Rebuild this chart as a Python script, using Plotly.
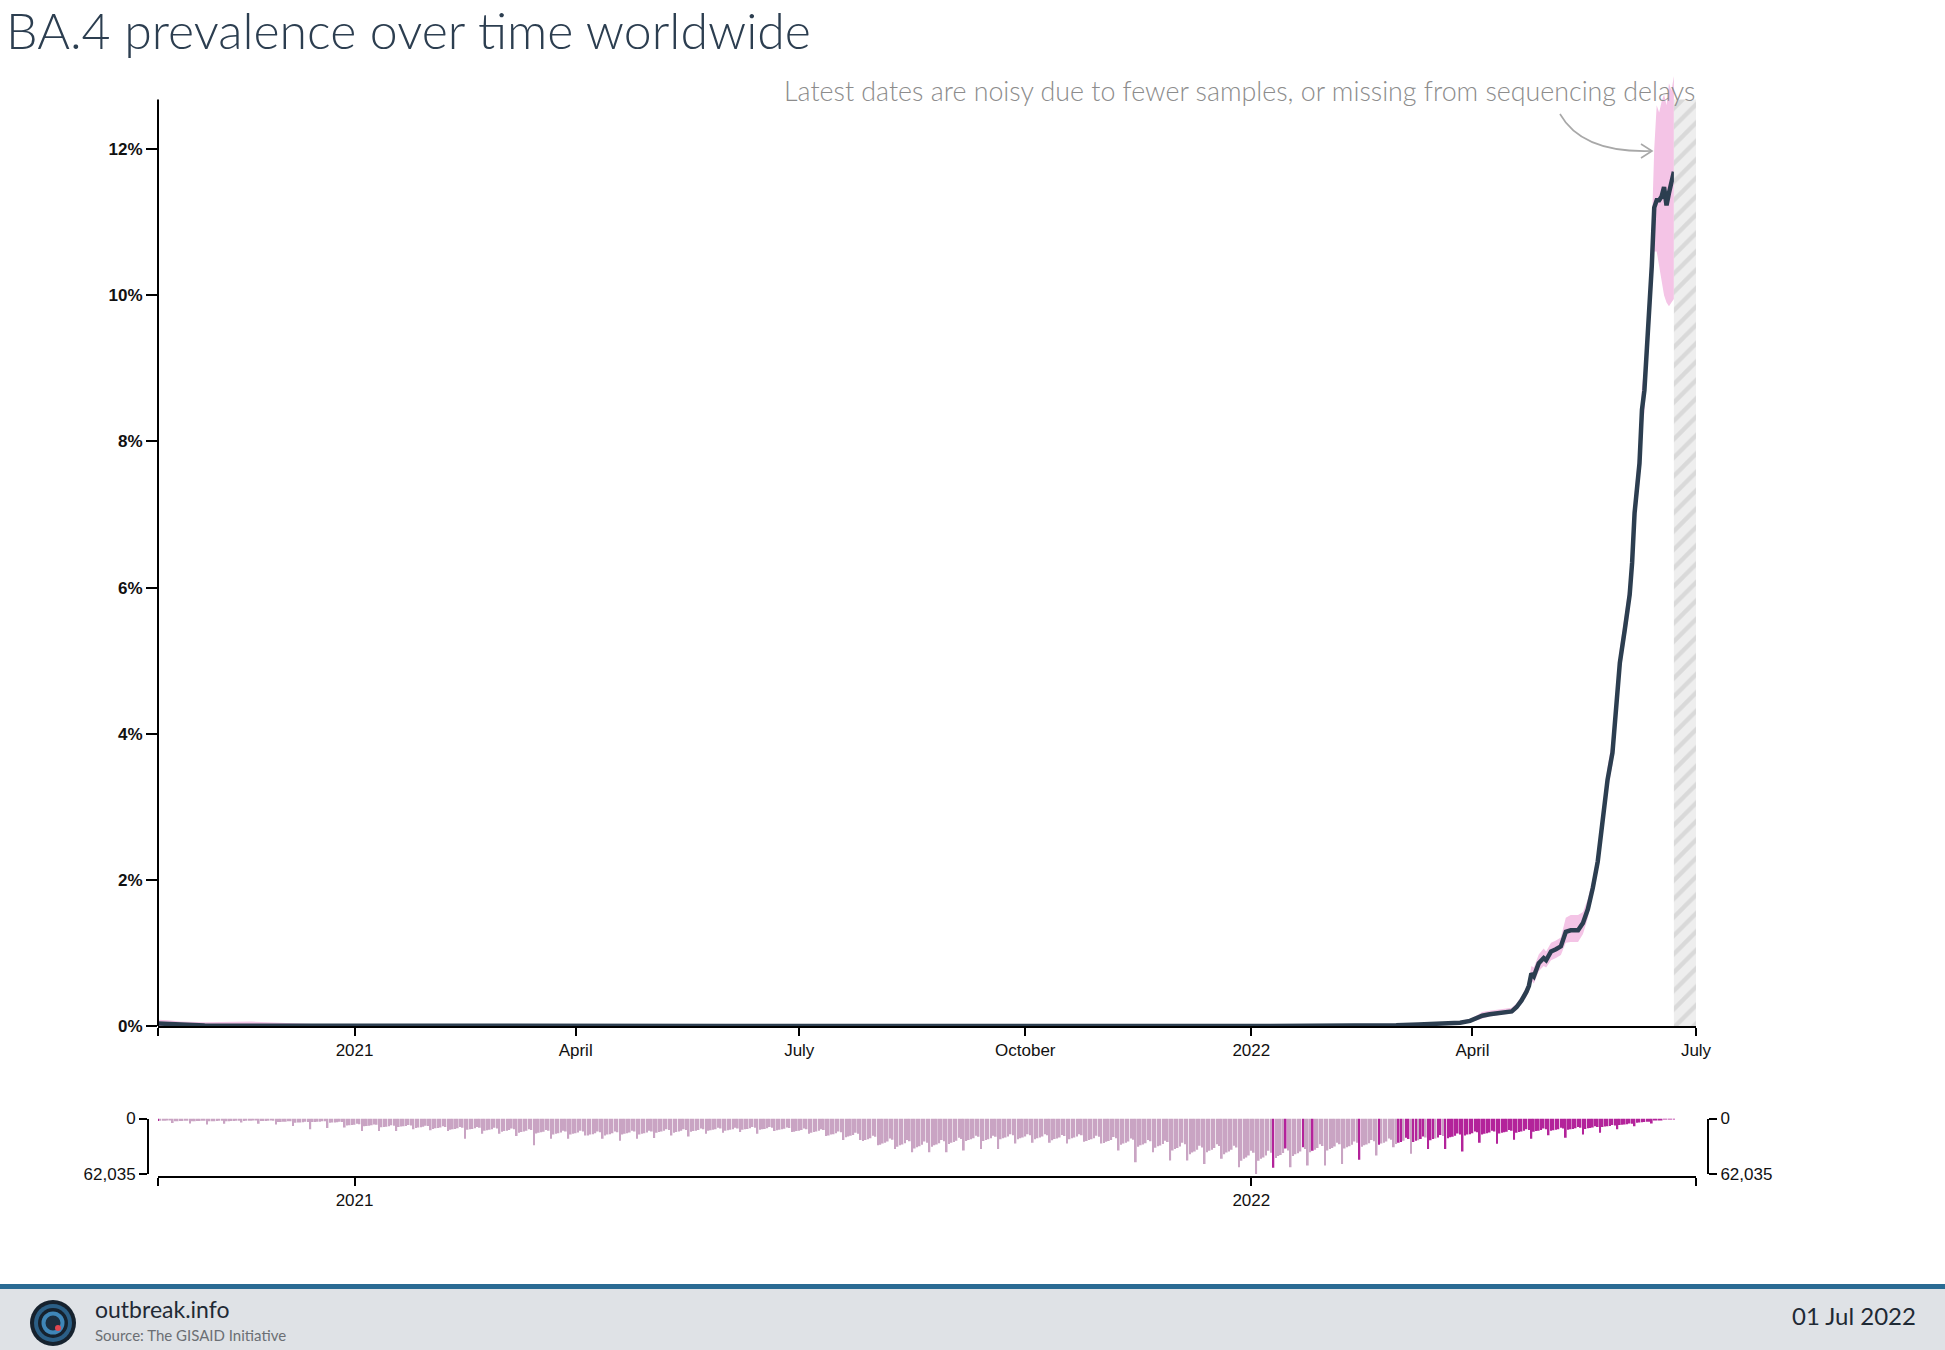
import plotly.graph_objects as go
import pandas as pd

W, H = 1945, 1350

# ---------------- data ----------------
line_dates = [
    "2020-10-13", "2020-10-17", "2020-10-22", "2020-11-01", "2020-11-20", "2020-12-05",
    "2020-12-20", "2021-01-15", "2021-03-01", "2021-06-01", "2022-01-01", "2022-02-01",
    "2022-03-01", "2022-03-10", "2022-03-18", "2022-03-23", "2022-03-27", "2022-03-31",
    "2022-04-03", "2022-04-05", "2022-04-08", "2022-04-12", "2022-04-14", "2022-04-17",
    "2022-04-19", "2022-04-21", "2022-04-23", "2022-04-24", "2022-04-25", "2022-04-26",
    "2022-04-28", "2022-04-30", "2022-05-01", "2022-05-03", "2022-05-05", "2022-05-07",
    "2022-05-09", "2022-05-11", "2022-05-14", "2022-05-16", "2022-05-18", "2022-05-20",
    "2022-05-22", "2022-05-23", "2022-05-26", "2022-05-28", "2022-05-31", "2022-06-02",
    "2022-06-04", "2022-06-05", "2022-06-06", "2022-06-08", "2022-06-09", "2022-06-10",
    "2022-06-11", "2022-06-12", "2022-06-13", "2022-06-14", "2022-06-15", "2022-06-16",
    "2022-06-17", "2022-06-18", "2022-06-19", "2022-06-20", "2022-06-21", "2022-06-22",
]
prevalence_pct = [
    0.035, 0.03, 0.012, 0.006, 0.005, 0.004,
    0.003, 0.002, 0.0, 0.0, 0.0, 0.002,
    0.01, 0.02, 0.025, 0.03, 0.045, 0.07,
    0.11, 0.14, 0.16, 0.18, 0.19, 0.20,
    0.26, 0.35, 0.47, 0.55, 0.72, 0.68,
    0.86, 0.93, 0.90, 1.02, 1.05, 1.09,
    1.29, 1.31, 1.31, 1.41, 1.60, 1.89,
    2.25, 2.55, 3.37, 3.74, 4.97, 5.42,
    5.90, 6.34, 7.02, 7.70, 8.43, 8.70,
    9.20, 9.80, 10.40, 11.20, 11.30, 11.30,
    11.35, 11.48, 11.23, 11.40, 11.55, 11.69,
]
ci_lower_pct = [
    0.0, 0.0, 0.0, 0.0, 0.0, 0.0,
    0.0, 0.0, 0.0, 0.0, 0.0, 0.0,
    0.005, 0.01, 0.015, 0.02, 0.03, 0.05,
    0.08, 0.11, 0.13, 0.15, 0.16, 0.17,
    0.22, 0.30, 0.40, 0.47, 0.62, 0.58,
    0.75, 0.82, 0.80, 0.90, 0.93, 0.97,
    1.14, 1.15, 1.15, 1.26, 1.48, 1.78,
    2.12, 2.42, 3.22, 3.58, 4.80, 5.24,
    5.70, 6.12, 6.78, 7.44, 8.15, 8.40,
    8.88, 9.45, 10.0, 10.6, 10.6, 10.4,
    10.2, 10.0, 9.9, 9.85, 9.9, 9.95,
]
ci_upper_pct = [
    0.085, 0.08, 0.06, 0.05, 0.06, 0.045,
    0.02, 0.012, 0.005, 0.003, 0.003, 0.006,
    0.02, 0.03, 0.04, 0.05, 0.07, 0.10,
    0.15, 0.19, 0.21, 0.23, 0.24, 0.25,
    0.31, 0.41, 0.54, 0.64, 0.82, 0.80,
    0.98, 1.06, 1.02, 1.14, 1.17, 1.21,
    1.48, 1.52, 1.52, 1.56, 1.74, 2.02,
    2.40, 2.70, 3.54, 3.92, 5.16, 5.62,
    6.12, 6.58, 7.28, 7.98, 8.74, 9.02,
    9.54, 10.2, 10.9, 12.0, 12.6, 12.5,
    12.65, 12.75, 12.6, 12.9, 12.8, 13.0,
]

# daily number of sequenced samples (thousands), one value per day from samples_start
samples_start = "2020-10-13"
daily_samples_k = [
    2.7, 2.6, 2.5, 2.4, 2.1, 2.2, 5.0,
    3.1, 3.0, 2.9, 2.8, 2.4, 2.6, 5.6,
    3.2, 3.0, 2.9, 2.8, 2.4, 2.5, 6.8,
    3.1, 3.0, 3.0, 2.8, 2.4, 2.6, 6.0,
    3.2, 3.0, 2.9, 2.7, 2.4, 2.5, 4.5,
    2.8, 2.6, 2.5, 2.4, 2.1, 2.2, 6.0,
    2.9, 2.8, 2.7, 2.6, 2.2, 2.4, 6.8,
    4.0, 3.8, 3.7, 3.5, 3.0, 3.2, 8.3,
    4.7, 4.5, 4.4, 4.1, 3.6, 3.8, 12.0,
    4.0, 3.8, 3.7, 3.5, 3.0, 3.2, 10.5,
    4.7, 4.5, 4.4, 4.1, 3.6, 3.8, 10.0,
    7.9, 7.5, 7.3, 6.9, 6.0, 6.4, 14.0,
    8.7, 8.3, 8.1, 7.6, 6.6, 7.1, 14.0,
    9.9, 9.4, 9.1, 8.6, 7.5, 8.0, 14.0,
    9.5, 9.0, 8.7, 8.3, 7.2, 7.7, 12.0,
    10.5, 10.0, 9.7, 9.2, 8.0, 8.5, 13.0,
    11.6, 11.0, 10.7, 10.1, 8.8, 9.4, 14.0,
    12.6, 12.0, 11.6, 11.0, 9.6, 10.2, 22.6,
    12.6, 12.0, 11.6, 11.0, 9.6, 10.2, 17.0,
    13.7, 13.0, 12.6, 12.0, 10.4, 11.1, 17.0,
    14.7, 14.0, 13.6, 12.9, 11.2, 11.9, 19.5,
    15.8, 15.0, 14.6, 13.8, 12.0, 12.8, 30.0,
    16.8, 16.0, 15.5, 14.7, 12.8, 13.6, 22.6,
    17.9, 17.0, 16.5, 15.6, 13.6, 14.5, 22.6,
    17.9, 17.0, 16.5, 15.6, 13.6, 14.5, 19.0,
    18.9, 18.0, 17.5, 16.6, 14.4, 15.3, 22.6,
    18.9, 18.0, 17.5, 16.6, 14.4, 15.3, 25.0,
    17.9, 17.0, 16.5, 15.6, 13.6, 14.5, 22.6,
    17.9, 17.0, 16.5, 15.6, 13.6, 14.5, 21.8,
    15.8, 15.0, 14.6, 13.8, 12.0, 12.8, 19.0,
    15.8, 15.0, 14.6, 13.8, 12.0, 12.8, 20.0,
    14.7, 14.0, 13.6, 12.9, 11.2, 11.9, 17.0,
    13.7, 13.0, 12.6, 12.0, 10.4, 11.1, 16.0,
    13.7, 13.0, 12.6, 12.0, 10.4, 11.1, 15.0,
    12.6, 12.0, 11.6, 11.0, 9.6, 10.2, 17.0,
    12.6, 12.0, 11.6, 11.0, 9.6, 10.2, 14.0,
    13.1, 12.5, 12.1, 11.5, 10.0, 10.6, 15.0,
    14.7, 14.0, 13.6, 12.9, 11.2, 11.9, 17.0,
    15.8, 15.0, 14.6, 13.8, 12.0, 12.8, 19.5,
    18.9, 18.0, 17.5, 16.6, 14.4, 15.3, 24.0,
    21.0, 20.0, 19.4, 18.4, 16.0, 17.0, 24.0,
    25.2, 24.0, 23.3, 22.1, 19.2, 20.4, 30.0,
    29.4, 28.0, 27.2, 25.8, 22.4, 23.8, 34.0,
    31.5, 30.0, 29.1, 27.6, 24.0, 25.5, 37.6,
    33.6, 32.0, 31.0, 29.4, 25.6, 27.2, 37.6,
    31.5, 30.0, 29.1, 27.6, 24.0, 25.5, 37.6,
    28.4, 27.0, 26.2, 24.8, 21.6, 23.0, 35.7,
    25.2, 24.0, 23.3, 22.1, 19.2, 20.4, 34.0,
    25.2, 24.0, 23.3, 22.1, 19.2, 20.4, 34.0,
    23.1, 22.0, 21.3, 20.2, 17.6, 18.7, 28.0,
    23.1, 22.0, 21.3, 20.2, 17.6, 18.7, 27.0,
    23.1, 22.0, 21.3, 20.2, 17.6, 18.7, 27.0,
    24.2, 23.0, 22.3, 21.2, 18.4, 19.6, 28.0,
    23.1, 22.0, 21.3, 20.2, 17.6, 18.7, 26.0,
    25.2, 24.0, 23.3, 22.1, 19.2, 20.4, 28.0,
    27.3, 26.0, 25.2, 23.9, 20.8, 22.1, 35.7,
    29.4, 28.0, 27.2, 25.8, 22.4, 23.8, 49.0,
    31.5, 30.0, 29.1, 27.6, 24.0, 25.5, 37.6,
    32.6, 31.0, 30.1, 28.5, 24.8, 26.4, 47.0,
    35.7, 34.0, 33.0, 31.3, 27.2, 28.9, 47.0,
    39.9, 38.0, 36.9, 35.0, 30.4, 32.3, 50.8,
    37.8, 36.0, 34.9, 33.1, 28.8, 30.6, 45.0,
    39.9, 38.0, 36.9, 35.0, 30.4, 32.3, 54.5,
    47.3, 45.0, 43.7, 41.4, 36.0, 38.3, 62.035,
    47.3, 45.0, 43.7, 41.4, 36.0, 38.3, 55.0,
    44.1, 42.0, 40.7, 38.6, 33.6, 35.7, 54.5,
    42.0, 40.0, 38.8, 36.8, 32.0, 34.0, 52.6,
    37.8, 36.0, 34.9, 33.1, 28.8, 30.6, 52.6,
    35.7, 34.0, 33.0, 31.3, 27.2, 28.9, 50.8,
    33.6, 32.0, 31.0, 29.4, 25.6, 27.2, 46.0,
    31.5, 30.0, 29.1, 27.6, 24.0, 25.5, 41.4,
    29.4, 28.0, 27.2, 25.8, 22.4, 23.8, 32.0,
    28.4, 27.0, 26.2, 24.8, 21.6, 23.0, 39.5,
    26.3, 25.0, 24.3, 23.0, 20.0, 21.3, 34.0,
    24.2, 23.0, 22.3, 21.2, 18.4, 19.6, 34.0,
    22.1, 21.0, 20.4, 19.3, 16.8, 17.9, 37.0,
    18.9, 18.0, 17.5, 16.6, 14.4, 15.3, 27.0,
    17.9, 17.0, 16.5, 15.6, 13.6, 14.5, 28.2,
    16.8, 16.0, 15.5, 14.7, 12.8, 13.6, 23.7,
    15.8, 15.0, 14.6, 13.8, 12.0, 12.8, 22.6,
    14.7, 14.0, 13.6, 12.9, 11.2, 11.9, 18.8,
    13.7, 13.0, 12.6, 12.0, 10.4, 11.1, 21.4,
    12.6, 12.0, 11.6, 11.0, 9.6, 10.2, 18.0,
    11.6, 11.0, 10.7, 10.1, 8.8, 9.4, 15.8,
    9.5, 9.0, 8.7, 8.3, 7.2, 7.7, 12.0,
    7.4, 7.0, 6.8, 6.4, 5.6, 6.0, 8.6,
    4.7, 4.5, 4.3, 4.0, 3.5, 3.7, 5.5,
    2.2, 1.9, 1.6, 1.3, 1.0, 0.8, 0.6,
    0.3, 0.15,
]
# days on which BA.4 was found among the samples (dark bars)
ba4_sporadic_dates = ["2020-10-13", "2022-01-10", "2022-01-15", "2022-01-22",
                      "2022-01-26", "2022-02-14", "2022-02-22"]
ba4_continuous_from = "2022-03-02"
ba4_missed_dates = ["2022-03-04", "2022-03-07", "2022-03-10", "2022-03-13",
                    "2022-03-17", "2022-03-20"]

x_tick_vals = ["2021-01-01", "2021-04-01", "2021-07-01", "2021-10-01",
               "2022-01-01", "2022-04-01", "2022-07-01"]
x_tick_text = ["2021", "April", "July", "October", "2022", "April", "July"]
y_tick_vals = [0, 2, 4, 6, 8, 10, 12]
y_tick_text = ["0%", "2%", "4%", "6%", "8%", "10%", "12%"]
count_x_tick_vals = ["2021-01-01", "2022-01-01"]
count_x_tick_text = ["2021", "2022"]

x_start, x_end = "2020-10-13", "2022-07-01"
noisy_from = "2022-06-22"
y_axis_top = 12.68

title_text = "BA.4 prevalence over time worldwide"
note_text = "Latest dates are noisy due to fewer samples, or missing from sequencing delays"

# ---------------- derived ----------------
sample_dates = pd.date_range(samples_start, periods=len(daily_samples_k), freq="D")
sample_counts = [round(v * 1000) for v in daily_samples_k]
max_count = max(sample_counts)
sporadic = set(pd.to_datetime(ba4_sporadic_dates))
missed = set(pd.to_datetime(ba4_missed_dates))
cont_from = pd.Timestamp(ba4_continuous_from)
DARK, LIGHT = "#b3239a", "#c9a4c3"
bar_colors = [DARK if (d in sporadic or (d >= cont_from and d not in missed)) else LIGHT
              for d in sample_dates]


def px(x):
    """pixel x -> paper coordinate"""
    return x / W


def py(y):
    """pixel y (from top) -> paper coordinate"""
    return (H - y) / H


NAVY = "#2c3e50"
PINK = "#f4c4e6"
TICKFONT = dict(family="Liberation Sans, Arial, sans-serif", size=17, color="#111")
YTICKFONT = dict(family="Liberation Sans, Arial, sans-serif", size=17, color="#111", weight="bold")

fig = go.Figure()

# confidence band
fig.add_trace(go.Scatter(x=line_dates, y=ci_lower_pct, mode="lines", line=dict(width=0, color=PINK),
                         hoverinfo="skip", showlegend=False, xaxis="x", yaxis="y"))
fig.add_trace(go.Scatter(x=line_dates, y=ci_upper_pct, mode="lines", line=dict(width=0, color=PINK),
                         fill="tonexty", fillcolor=PINK, hoverinfo="skip", showlegend=False,
                         xaxis="x", yaxis="y"))
# prevalence line
fig.add_trace(go.Scatter(x=line_dates, y=prevalence_pct, mode="lines",
                         line=dict(width=4.5, color=NAVY), showlegend=False, xaxis="x", yaxis="y"))
# hatched "noisy" zone
fig.add_trace(go.Scatter(x=[noisy_from, x_end, x_end, noisy_from, noisy_from],
                         y=[0, 0, y_axis_top, y_axis_top, 0], mode="lines", line=dict(width=0),
                         fill="toself", fillcolor="#eeeeee",
                         fillpattern=dict(shape="/", fgcolor="#c4c4c4", bgcolor="#eeeeee",
                                          size=13, solidity=0.33),
                         hoverinfo="skip", showlegend=False, xaxis="x", yaxis="y"))

# sample counts
fig.add_trace(go.Bar(x=sample_dates, y=sample_counts, marker=dict(color=bar_colors, line=dict(width=0)),
                     showlegend=False, xaxis="x2", yaxis="y2"))
fig.add_trace(go.Scatter(x=[x_start], y=[0], mode="markers", marker=dict(opacity=0),
                         hoverinfo="skip", showlegend=False, xaxis="x2", yaxis="y3"))

x_dom = [px(158), px(1696)]
count_ticks = [0, max_count]
count_text = ["0", f"{max_count:,}"]
axis_style = dict(ticks="outside", ticklen=8, tickwidth=2, tickcolor="#000",
                  showline=True, linewidth=2, linecolor="#000", showgrid=False,
                  zeroline=False, tickfont=TICKFONT, automargin=False)

fig.update_layout(
    width=W, height=H, margin=dict(l=0, r=0, t=0, b=0, pad=0, autoexpand=False),
    paper_bgcolor="white", plot_bgcolor="white", showlegend=False, bargap=0.3,
    xaxis=dict(domain=x_dom, range=[x_start, x_end], type="date", anchor="y",
               tickvals=[x_start] + x_tick_vals, ticktext=[""] + x_tick_text, **axis_style),
    yaxis=dict(domain=[py(1026), py(61.4)], range=[0, 13.2], anchor="x",
               tickvals=y_tick_vals, ticktext=y_tick_text, ticks="outside", ticklen=11,
               tickwidth=2, tickcolor="#000", showline=False, showgrid=False, zeroline=False,
               tickfont=YTICKFONT, automargin=False),
    xaxis2=dict(domain=x_dom, range=[x_start, x_end], type="date", anchor="free",
                position=py(1177),
                tickvals=[x_start] + count_x_tick_vals + [x_end],
                ticktext=[""] + count_x_tick_text + [""], **axis_style),
    yaxis2=dict(domain=[py(1174), py(1118.5)], range=[max_count, 0], anchor="free",
                position=px(148), side="left", tickvals=count_ticks, ticktext=count_text,
                **axis_style),
    yaxis3=dict(overlaying="y2", range=[max_count, 0], anchor="free", position=px(1708),
                side="right", tickvals=count_ticks, ticktext=count_text, **axis_style),
)

shapes = [
    # main y axis line (stops below the band that overflows)
    dict(type="line", xref="paper", yref="y", x0=px(158), x1=px(158), y0=0, y1=y_axis_top,
         line=dict(color="#000", width=2)),
    # annotation arrow
    dict(type="path", xref="paper", yref="paper",
         path=f"M {px(1560)} {py(114)} Q {px(1582)} {py(153)} {px(1651)} {py(151)}",
         line=dict(color="#a8a8a8", width=1.6)),
    dict(type="path", xref="paper", yref="paper",
         path=f"M {px(1641)} {py(144)} L {px(1652)} {py(151)} L {px(1641)} {py(158)}",
         line=dict(color="#a8a8a8", width=1.6)),
    # footer
    dict(type="rect", xref="paper", yref="paper", x0=0, x1=1, y0=0, y1=py(1288),
         fillcolor="#dfe2e6", line=dict(width=0), layer="below"),
    dict(type="rect", xref="paper", yref="paper", x0=0, x1=1, y0=py(1289), y1=py(1284),
         fillcolor="#2a6b93", line=dict(width=0)),
]
# logo
logo = [(23, "#16222e"), (19, "#2b5f86"), (15, "#16222e"), (11.5, "#3f86b8"), (7.5, "#1c2f40")]
cx, cy = 53, 1323
for r, col in logo:
    shapes.append(dict(type="circle", xref="paper", yref="paper",
                       x0=px(cx - r), x1=px(cx + r), y0=py(cy + r), y1=py(cy - r),
                       fillcolor=col, line=dict(width=0)))
shapes.append(dict(type="circle", xref="paper", yref="paper",
                   x0=px(cx + 2), x1=px(cx + 8), y0=py(cy + 8), y1=py(cy + 2),
                   fillcolor="#e0464f", line=dict(width=0)))
fig.update_layout(shapes=shapes)

annotations = [
    dict(text=title_text, xref="paper", yref="paper", x=px(4), y=py(30), xanchor="left",
         yanchor="middle", showarrow=False,
         font=dict(family="Lato, sans-serif", size=50, color=NAVY, weight=300)),
    dict(text=note_text, xref="paper", yref="paper", x=px(1697), y=py(91), xanchor="right",
         yanchor="middle", showarrow=False,
         font=dict(family="Lato, sans-serif", size=26.8, color="#8c8c8c", weight=300)),
    dict(text="outbreak.info", xref="paper", yref="paper", x=px(93), y=py(1309), xanchor="left",
         yanchor="middle", showarrow=False,
         font=dict(family="Lato, sans-serif", size=23, color="#1f2a35")),
    dict(text="Source: The GISAID Initiative", xref="paper", yref="paper", x=px(93), y=py(1335),
         xanchor="left", yanchor="middle", showarrow=False,
         font=dict(family="Lato, sans-serif", size=15, color="#6b6f74")),
    dict(text="01 Jul 2022", xref="paper", yref="paper", x=px(1918), y=py(1315), xanchor="right",
         yanchor="middle", showarrow=False,
         font=dict(family="Lato, sans-serif", size=24, color="#1f2a35")),
]
fig.update_layout(annotations=annotations)

fig.write_html("out.html", config={"displayModeBar": False},
               post_script="document.body.style.margin='0';document.body.style.overflow='hidden';")
